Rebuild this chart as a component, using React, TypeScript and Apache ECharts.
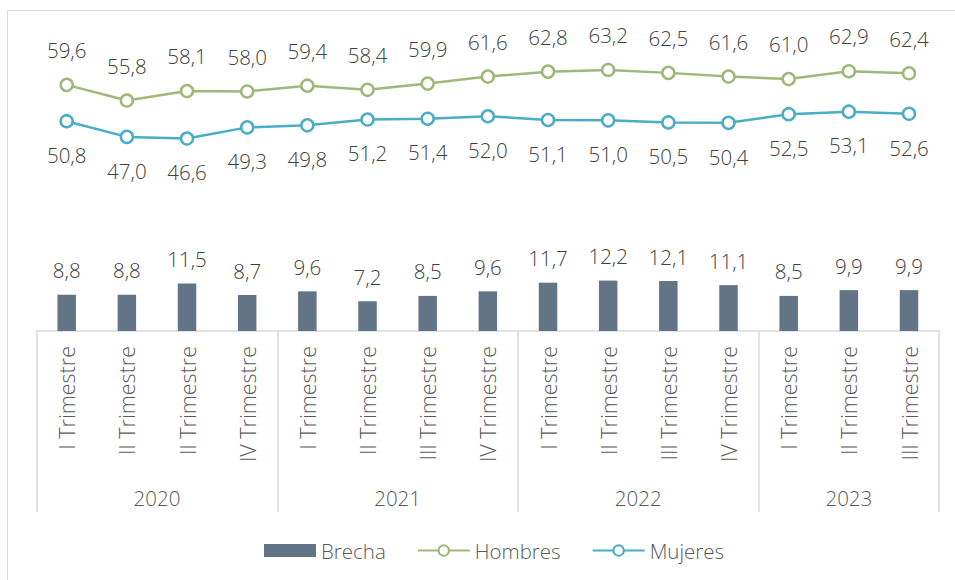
import React, { useEffect, useRef } from "react";
import * as echarts from "echarts";

const quarters = [
  "I Trimestre", "II Trimestre", "II Trimestre", "IV Trimestre",
  "I Trimestre", "II Trimestre", "III Trimestre", "IV Trimestre",
  "I Trimestre", "II Trimestre", "III Trimestre", "IV Trimestre",
  "I Trimestre", "II Trimestre", "III Trimestre",
];
const years = ["2020", "2021", "2022", "2023"];
const yearCenters = [2, 6, 10, 13.5];
const yearBounds = [0, 4, 8, 12, 15];
const brecha = [8.8, 8.8, 11.5, 8.7, 9.6, 7.2, 8.5, 9.6, 11.7, 12.2, 12.1, 11.1, 8.5, 9.9, 9.9];
const hombres = [59.6, 55.8, 58.1, 58.0, 59.4, 58.4, 59.9, 61.6, 62.8, 63.2, 62.5, 61.6, 61.0, 62.9, 62.4];
const mujeres = [50.8, 47.0, 46.6, 49.3, 49.8, 51.2, 51.4, 52.0, 51.1, 51.0, 50.5, 50.4, 52.5, 53.1, 52.6];

const FONT = "'Open Sans', 'Noto Sans', sans-serif";
const fmt = (p: any) => Number(p.value).toFixed(1).replace(".", ",");

export default function App() {
  const ref = useRef<HTMLDivElement>(null);
  useEffect(() => {
    document.body.style.margin = "0";
    const chart = echarts.init(ref.current!, undefined, { renderer: "svg" });
    const labelStyle = { fontFamily: FONT, fontSize: 20.5, fontWeight: 300, color: "#404040" };
    chart.setOption({
      animation: false,
      backgroundColor: "#ffffff",
      textStyle: { fontFamily: FONT },
      graphic: [
        {
          type: "rect",
          shape: { x: 7.5, y: 10.5, width: 980, height: 620 },
          style: { fill: "none", stroke: "#d9d9d9", lineWidth: 1 },
          silent: true,
        },
      ],
      grid: { left: 36.6, right: 15.9, top: 41.9, bottom: 249, containLabel: false },
      legend: {
        left: 259,
        top: 535,
        itemWidth: 52,
        itemHeight: 13,
        itemGap: 31,
        textStyle: { fontFamily: FONT, fontSize: 20.5, fontWeight: 300, color: "#595959" },
        data: [
          { name: "Brecha", icon: "rect" },
          { name: "Hombres" },
          { name: "Mujeres" },
        ],
      },
      xAxis: [
        {
          type: "category",
          data: quarters,
          boundaryGap: true,
          axisLine: { show: true, lineStyle: { color: "#d9d9d9", width: 1.5 } },
          axisTick: { show: false },
          axisLabel: {
            interval: 0,
            rotate: 90,
            margin: 15,
            fontFamily: FONT,
            fontSize: 21.5,
            fontWeight: 300,
            color: "#595959",
          },
        },
        {
          type: "value",
          min: 0,
          max: 15,
          position: "bottom",
          axisLine: { show: false },
          splitLine: { show: false },
          axisTick: {
            show: true,
            customValues: yearBounds,
            length: 181,
            lineStyle: { color: "#d9d9d9", width: 1.5 },
          },
          axisLabel: {
            show: true,
            customValues: yearCenters,
            margin: 156,
            fontFamily: FONT,
            fontSize: 20.5,
            fontWeight: 300,
            color: "#595959",
            formatter: (v: number) => {
              const i = yearCenters.indexOf(v);
              return i >= 0 ? years[i] : "";
            },
          },
        },
      ],
      yAxis: {
        type: "value",
        min: 0,
        max: 70,
        show: false,
        splitLine: { show: false },
      },
      series: [
        {
          name: "Brecha",
          type: "bar",
          data: brecha,
          barWidth: 18.5,
          itemStyle: { color: "#637487" },
          label: { show: true, position: "top", distance: 14, formatter: fmt, ...labelStyle },
        },
        {
          name: "Hombres",
          type: "line",
          data: hombres,
          symbol: "circle",
          symbolSize: 12,
          lineStyle: { color: "#9fb87a", width: 2.5 },
          itemStyle: { color: "#ffffff", borderColor: "#9fb87a", borderWidth: 2.5 },
          label: { show: true, position: "top", distance: 17, formatter: fmt, ...labelStyle },
        },
        {
          name: "Mujeres",
          type: "line",
          data: mujeres,
          symbol: "circle",
          symbolSize: 12,
          lineStyle: { color: "#4bacc6", width: 2.5 },
          itemStyle: { color: "#ffffff", borderColor: "#4bacc6", borderWidth: 2.5 },
          label: { show: true, position: "bottom", distance: 16, formatter: fmt, ...labelStyle },
        },
      ],
    });
    return () => chart.dispose();
  }, []);
  return (
    <div
      ref={ref}
      style={{ position: "absolute", left: 0, top: 0, width: 955, height: 580 }}
    />
  );
}
